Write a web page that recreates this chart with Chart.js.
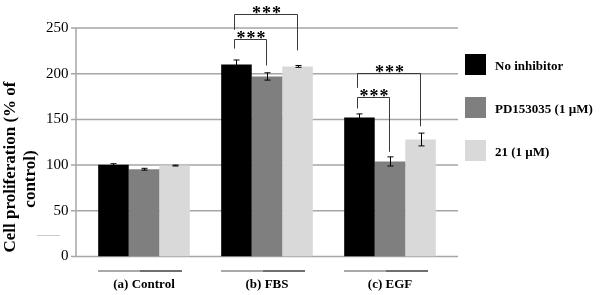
<!DOCTYPE html>
<html>
<head>
<meta charset="utf-8">
<script src="https://cdn.jsdelivr.net/npm/chart.js@4"></script>
<style>
  body { margin: 0; background: #ffffff; }
  #wrap { width: 600px; height: 295px; }
</style>
</head>
<body>
<div id="wrap"><canvas id="prolif"></canvas></div>
<script>
const categories = ["(a) Control", "(b) FBS", "(c) EGF"];
const seriesNames = ["No inhibitor", "PD153035 (1 \u00b5M)", "21 (1 \u00b5M)"];
const noInhibitor = [100.5, 210, 152];
const pd153035 = [95.5, 197, 104];
const cmpd21 = [99.5, 208, 128];
const noInhibitorErr = [1, 5, 4];
const pd153035Err = [1, 4, 5];
const cmpd21Err = [0.5, 1, 7];
const yTicks = [0, 50, 100, 150, 200, 250];

// significance brackets (group, from series, to series, level, left leg end, right leg end)
const sigGroup = [1, 1, 2, 2];
const sigFrom = [0, 0, 0, 0];
const sigTo = [1, 2, 1, 2];
const sigLevel = [237.5, 265.5, 174.5, 201];
const sigLeftEnd = [227.5, 248, 162, 184.5];
const sigRightEnd = [209, 225.5, 114.5, 142.5];
const sigText = ["***", "***", "***", "***"];

const colors = ["#000000", "#7f7f7f", "#d9d9d9"];
const errors = [noInhibitorErr, pd153035Err, cmpd21Err];
const serif = "'Liberation Serif', 'Times New Roman', serif";

const extras = {
  id: "extras",
  beforeDatasetsDraw(chart) {
    const ctx = chart.ctx;
    const y = chart.scales.y;
    ctx.save();
    ctx.strokeStyle = "#a6a6a6";
    ctx.lineWidth = 1.5;
    yTicks.forEach((v) => {
      const py = y.getPixelForValue(v);
      ctx.beginPath();
      ctx.moveTo(71, py);
      ctx.lineTo(458, py);
      ctx.stroke();
    });
    ctx.beginPath();
    ctx.moveTo(76, y.getPixelForValue(250));
    ctx.lineTo(76, y.getPixelForValue(0));
    ctx.stroke();
    ctx.restore();
  },
  afterDatasetsDraw(chart) {
    const ctx = chart.ctx;
    const y = chart.scales.y;
    const x = chart.scales.x;
    ctx.save();

    // error bars
    ctx.strokeStyle = "#000000";
    ctx.lineWidth = 1;
    chart.data.datasets.forEach((ds, di) => {
      const meta = chart.getDatasetMeta(di);
      meta.data.forEach((bar, i) => {
        const v = ds.data[i];
        const e = errors[di][i];
        const cx = Math.round(bar.x) + 0.5;
        const top = y.getPixelForValue(v + e);
        const bot = y.getPixelForValue(v - e);
        ctx.beginPath();
        ctx.moveTo(cx, top);
        ctx.lineTo(cx, bot);
        ctx.moveTo(cx - 3, top);
        ctx.lineTo(cx + 3, top);
        ctx.moveTo(cx - 3, bot);
        ctx.lineTo(cx + 3, bot);
        ctx.stroke();
      });
    });

    // significance brackets
    ctx.strokeStyle = "#3a3a3a";
    ctx.fillStyle = "#000000";
    ctx.font = "bold 18px " + serif;
    ctx.textAlign = "center";
    ctx.textBaseline = "alphabetic";
    ctx.letterSpacing = "1px";
    sigGroup.forEach((g, k) => {
      const x1 = Math.round(chart.getDatasetMeta(sigFrom[k]).data[g].x) - 1.5;
      const x2 = Math.round(chart.getDatasetMeta(sigTo[k]).data[g].x) - 0.5;
      const ly = Math.round(y.getPixelForValue(sigLevel[k])) + 0.5;
      ctx.beginPath();
      ctx.moveTo(x1, y.getPixelForValue(sigLeftEnd[k]));
      ctx.lineTo(x1, ly);
      ctx.lineTo(x2, ly);
      ctx.lineTo(x2, y.getPixelForValue(sigRightEnd[k]));
      ctx.stroke();
      ctx.fillText(sigText[k], (x1 + x2) / 2 + 1, ly + 4);
    });
    ctx.letterSpacing = "0px";

    // underlines above category labels
    categories.forEach((c, i) => {
      const cx = x.getPixelForValue(i) - 4;
      ctx.lineWidth = 1.5;
      ctx.strokeStyle = "#8c8c8c";
      ctx.beginPath();
      ctx.moveTo(cx - 42, 271);
      ctx.lineTo(cx, 271);
      ctx.stroke();
      ctx.strokeStyle = "#404040";
      ctx.beginPath();
      ctx.moveTo(cx, 271);
      ctx.lineTo(cx + 42, 271);
      ctx.stroke();
    });

    // legend
    ctx.font = "bold 13px " + serif;
    ctx.textAlign = "left";
    ctx.textBaseline = "middle";
    seriesNames.forEach((name, i) => {
      const top = 54 + i * 43;
      ctx.fillStyle = colors[i];
      ctx.fillRect(465, top, 21, 21);
      ctx.fillStyle = "#000000";
      ctx.fillText(name, 495, top + 13);
    });

    // y axis title
    const titleLines = ["Cell proliferation (% of", "control)"];
    const titleX = [11, 31];
    const titleY = [167, 179];
    ctx.font = "bold 17px " + serif;
    ctx.textAlign = "center";
    ctx.textBaseline = "middle";
    ctx.fillStyle = "#000000";
    titleLines.forEach((t, i) => {
      ctx.save();
      ctx.translate(titleX[i], titleY[i]);
      ctx.rotate(-Math.PI / 2);
      ctx.fillText(t, 0, 0);
      ctx.restore();
    });

    // faint stray mark
    ctx.strokeStyle = "#cccccc";
    ctx.lineWidth = 1;
    ctx.beginPath();
    ctx.moveTo(37, 235.5);
    ctx.lineTo(60, 235.5);
    ctx.stroke();

    ctx.restore();
  },
};

new Chart(document.getElementById("prolif"), {
  type: "bar",
  data: {
    labels: categories,
    datasets: [
      { label: seriesNames[0], data: noInhibitor, backgroundColor: colors[0] },
      { label: seriesNames[1], data: pd153035, backgroundColor: colors[1] },
      { label: seriesNames[2], data: cmpd21, backgroundColor: colors[2] },
    ],
  },
  options: {
    responsive: true,
    maintainAspectRatio: false,
    animation: false,
    layout: { padding: { top: 28, right: 148.5, left: 0, bottom: 0 } },
    datasets: {
      bar: { categoryPercentage: 0.745, barPercentage: 1.0 },
    },
    scales: {
      x: {
        grid: { display: false, drawTicks: false },
        border: { display: false },
        ticks: {
          color: "#000000",
          padding: 20,
          font: { family: serif, size: 13, weight: "bold" },
        },
        afterFit: (scale) => { scale.height = 38.5; },
      },
      y: {
        min: 0,
        max: 250,
        grid: { display: false, drawTicks: false },
        border: { display: false },
        ticks: {
          stepSize: 50,
          color: "#000000",
          padding: 14,
          font: { family: serif, size: 15 },
        },
        afterFit: (scale) => { scale.width = 82.5; },
      },
    },
    plugins: {
      legend: { display: false },
      tooltip: { enabled: false },
    },
  },
  plugins: [extras],
});
</script>
</body>
</html>
